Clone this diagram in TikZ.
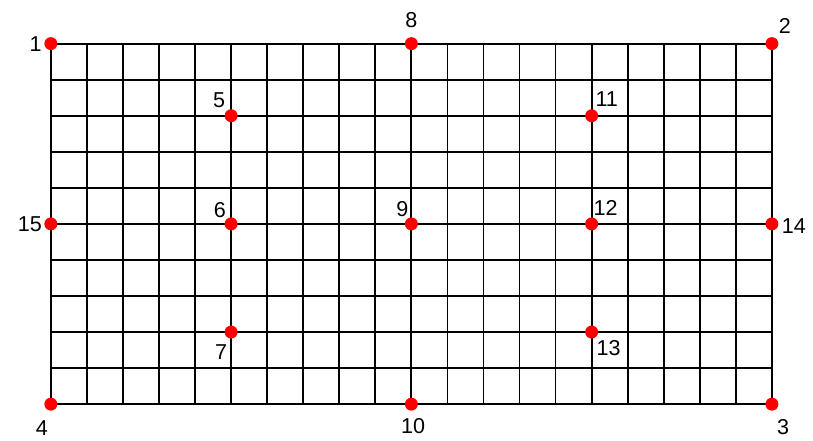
\documentclass[tikz,border=0pt]{standalone}
\usepackage{fontspec}
\setmainfont{Liberation Sans}
\usetikzlibrary{calc}
\begin{document}
\begin{tikzpicture}
  [every node/.style={inner sep=0pt},
   dot/.style={circle,fill=red,minimum size=0.36cm},
   lbl/.style={font=\fontsize{17}{20}\selectfont}]
  \useasboundingbox (-1.41,-1.02) rectangle (21.14,11.21);
  \draw[line width=1.4pt] (0,0) grid (20,10);
\foreach \n/\x/\y/\dx/\dy in {1/0/10/-0.42/0, 2/20/10/0.36/0.5, 3/20/0/0.31/-0.64,
  4/0/0/-0.25/-0.67, 5/5/8/-0.33/0.42, 6/5/5/-0.31/0.39, 7/5/2/-0.28/-0.56,
  8/10/10/0/0.64, 9/10/5/-0.25/0.42, 10/10/0/0.05/-0.61, 11/15/8/0.42/0.47,
  12/15/5/0.39/0.44, 13/15/2/0.47/-0.44, 14/20/5/0.61/-0.05, 15/0/5/-0.58/0}
  {
   \node[dot] (p\n) at (\x,\y) {};
   \node[lbl] (l\n) at ($(p\n)+(\dx,\dy)$) {\n};
  }
\end{tikzpicture}
\end{document}
